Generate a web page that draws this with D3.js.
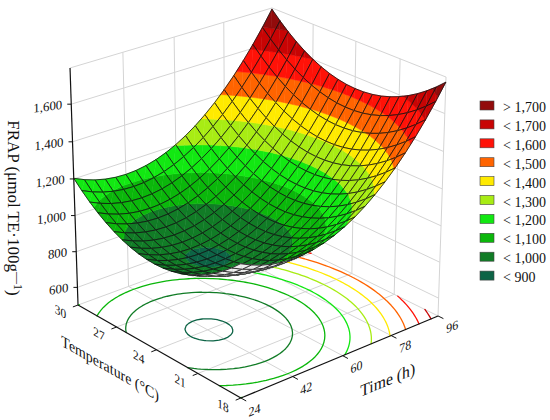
<!DOCTYPE html>
<html><head><meta charset="utf-8">
<script src="https://cdn.jsdelivr.net/npm/d3@7"></script>
<style>
body{margin:0;background:#fff}
svg{display:block}
text{font-family:"Liberation Serif","Times New Roman",serif;fill:#111}
</style>
</head><body>
<svg id="chart" width="550" height="420"></svg>
<script>
// ---------------- data ----------------
const timeTicks = [24, 42, 60, 78, 96];
const tempTicks = [18, 21, 24, 27, 30];
const frapTicks = [600, 800, 1000, 1200, 1400, 1600];
const frapTickLabels = ["600", "800", "1,000", "1,200", "1,400", "1,600"];
const contourLevels = [900, 1000, 1100, 1200, 1300, 1400, 1500, 1600, 1700];
const legendLabels = ["> 1,700", "< 1,700", "< 1,600", "< 1,500", "< 1,400", "< 1,300", "< 1,200", "< 1,100", "< 1,000", "< 900"];
// band colours, lowest band (< 900) first
const bandColors = ["#0d6446", "#117c26", "#0bb70b", "#12e812", "#a8ec14", "#ffea00", "#ff6400", "#ff1208", "#c80404", "#920b0b"];
// fitted quadratic response surface in coded units:
// b0, bTime, bTemp, bTime², bTemp², bTime·Temp
const frapModel = [961, 285, 5, 290, 237.5, 5];
const timeDomain = [24, 96];
const tempDomain = [18, 30];
const frapDomain = [500, 1790];

// ---------------- scales ----------------
const su = d3.scaleLinear().domain(timeDomain).range([0, 1]);
const sv = d3.scaleLinear().domain(tempDomain).range([0, 1]);
const sw = d3.scaleLinear().domain(frapDomain).range([0, 1]);
const codeT = d3.scaleLinear().domain(timeDomain).range([-1, 1]);
const codeC = d3.scaleLinear().domain(tempDomain).range([-1, 1]);
function frap(time, temp) {
  const x = codeT(time), y = codeC(temp), b = frapModel;
  return b[0] + b[1]*x + b[2]*y + b[3]*x*x + b[4]*y*y + b[5]*x*y;
}

// ---------------- camera (perspective, calibrated on box corners) ----------------
const viewAnchors = [
  [[0,0,0],[241,398]],
  [[1,0,0],[438,316]],
  [[0,1,0],[78,305]],
  [[0,1,1],[70,68]],
  [[1,0,1],[446,77]],
  [[1,1,1],[272,8]]
];
function solveCamera(pairs) {
  const rows = [], rhs = [];
  pairs.forEach(([[X,Y,Z],[x,y]]) => {
    rows.push([X,Y,Z,1,0,0,0,0,-x*X,-x*Y,-x*Z]); rhs.push(x);
    rows.push([0,0,0,0,X,Y,Z,1,-y*X,-y*Y,-y*Z]); rhs.push(y);
  });
  const n = 11;
  const M = Array.from({length:n}, () => new Array(n+1).fill(0));
  rows.forEach((r, k) => {
    for (let i=0;i<n;i++){ for (let j=0;j<n;j++) M[i][j]+=r[i]*r[j]; M[i][n]+=r[i]*rhs[k]; }
  });
  for (let c=0;c<n;c++){
    let p=c; for (let r=c+1;r<n;r++) if (Math.abs(M[r][c])>Math.abs(M[p][c])) p=r;
    [M[c],M[p]]=[M[p],M[c]];
    for (let r=0;r<n;r++){ if(r===c) continue; const f=M[r][c]/M[c][c]; for (let j=c;j<=n;j++) M[r][j]-=f*M[c][j]; }
  }
  return M.map((r,i)=>r[n]/r[i]);
}
const P = solveCamera(viewAnchors);
function depth(u,v,w){ return P[8]*u + P[9]*v + P[10]*w + 1; }
function proj(u,v,w){
  const d = depth(u,v,w);
  return [(P[0]*u+P[1]*v+P[2]*w+P[3])/d, (P[4]*u+P[5]*v+P[6]*w+P[7])/d];
}
const farSign = depth(1,1,0) > depth(0,0,0) ? 1 : -1;
function orient(a,b,c){ return (b[0]-a[0])*(c[1]-a[1]) - (b[1]-a[1])*(c[0]-a[0]); }
const topSign = Math.sign(orient(proj(0,0,0), proj(1,0,0), proj(1,1,0)));

const svg = d3.select("#chart");
const gGrid = svg.append("g");
const gFloor = svg.append("g");
const gSurf = svg.append("g");
const gAxes = svg.append("g");

function seg(g, a, b, stroke, width) {
  const p = proj(...a), q = proj(...b);
  g.append("line").attr("x1",p[0]).attr("y1",p[1]).attr("x2",q[0]).attr("y2",q[1])
    .attr("stroke",stroke).attr("stroke-width",width);
}

// ---------------- box grid ----------------
const gridCol = "#d4d4d4";
timeTicks.forEach(t => { const u = su(t);
  if (u>0) seg(gGrid,[u,0,0],[u,1,0],gridCol,1);      // floor
  if (u>0) seg(gGrid,[u,1,0],[u,1,1],gridCol,1);      // left wall
});
tempTicks.forEach(c => { const v = sv(c);
  if (v>0) seg(gGrid,[0,v,0],[1,v,0],gridCol,1);      // floor
  seg(gGrid,[1,v,0],[1,v,1],gridCol,1);               // right wall
});
frapTicks.concat([frapDomain[1]]).forEach(z => { const w = sw(z);
  seg(gGrid,[0,1,w],[1,1,w],gridCol,1);
  seg(gGrid,[1,1,w],[1,0,w],gridCol,1);
});

// ---------------- floor contours ----------------
const MC = 48;
const gv = [];
for (let i=0;i<=MC;i++){ gv.push([]); for (let j=0;j<=MC;j++) gv[i].push(frap(su.invert(i/MC), sv.invert(j/MC))); }
contourLevels.forEach((L, k) => {
  let d = "";
  for (let i=0;i<MC;i++) for (let j=0;j<MC;j++){
    const c = [[i,j],[i+1,j],[i+1,j+1],[i,j+1]];
    const pts = [];
    for (let e=0;e<4;e++){
      const a=c[e], b=c[(e+1)%4];
      const va=gv[a[0]][a[1]], vb=gv[b[0]][b[1]];
      if ((va<L)!==(vb<L)){
        const t=(L-va)/(vb-va);
        pts.push([(a[0]+t*(b[0]-a[0]))/MC, (a[1]+t*(b[1]-a[1]))/MC]);
      }
    }
    for (let s=0;s+1<pts.length;s+=2){
      const p=proj(pts[s][0],pts[s][1],0), q=proj(pts[s+1][0],pts[s+1][1],0);
      d += `M${p[0].toFixed(2)},${p[1].toFixed(2)}L${q[0].toFixed(2)},${q[1].toFixed(2)}`;
    }
  }
  gFloor.append("path").attr("d",d).attr("fill","none")
    .attr("stroke",bandColors[k]).attr("stroke-width",1.3).attr("stroke-linecap","round");
});

// ---------------- surface ----------------
const N = 20;
const nodes = [];
for (let i=0;i<=N;i++){ nodes.push([]); for (let j=0;j<=N;j++){
  const u=i/N, v=j/N; nodes[i].push({u, v, z: frap(su.invert(u), sv.invert(v))});
}}
function clip(poly, lvl, keepAbove){
  const out=[];
  for (let i=0;i<poly.length;i++){
    const a=poly[i], b=poly[(i+1)%poly.length];
    const ia = keepAbove ? a.z>=lvl : a.z<lvl;
    const ib = keepAbove ? b.z>=lvl : b.z<lvl;
    if (ia) out.push(a);
    if (ia!==ib){ const t=(lvl-a.z)/(b.z-a.z); out.push({u:a.u+t*(b.u-a.u), v:a.v+t*(b.v-a.v), z:lvl}); }
  }
  return out;
}
const pp = p => proj(p.u,p.v,sw(p.z));
const pathOf = poly => "M" + poly.map(p => pp(p).map(x=>x.toFixed(2)).join(",")).join("L") + "Z";
const cells = [];
for (let i=0;i<N;i++) for (let j=0;j<N;j++){
  const q=[nodes[i][j],nodes[i+1][j],nodes[i+1][j+1],nodes[i][j+1]];
  const zc=d3.mean(q,d=>d.z);
  cells.push({q, dep: farSign*depth((i+0.5)/N,(j+0.5)/N,sw(zc))});
}
cells.sort((a,b)=>b.dep-a.dep);
const backFill = "#eeeeee";
cells.forEach(cell => {
  const q = cell.q;
  [[q[0],q[1],q[2]],[q[0],q[2],q[3]]].forEach(tri => {
    const facing = Math.sign(orient(pp(tri[0]),pp(tri[1]),pp(tri[2]))) === topSign;
    if (!facing) {
      gSurf.append("path").attr("d",pathOf(tri)).attr("fill",backFill).attr("stroke",backFill).attr("stroke-width",0.5);
      return;
    }
    for (let k=0;k<bandColors.length;k++){
      let poly = tri;
      if (k>0) poly = clip(poly, contourLevels[k-1], true);
      if (poly.length>=3 && k<contourLevels.length) poly = clip(poly, contourLevels[k], false);
      if (poly.length>=3) gSurf.append("path").attr("d",pathOf(poly))
        .attr("fill",bandColors[k]).attr("stroke",bandColors[k]).attr("stroke-width",0.5).attr("stroke-linejoin","round");
    }
  });
  gSurf.append("path").attr("d",pathOf(q)).attr("fill","none")
    .attr("stroke","#111").attr("stroke-width",0.8).attr("stroke-linejoin","round");
});

// ---------------- axes ----------------
seg(gAxes,[0,1,0],[0,1,1],"#111",1.2);
seg(gAxes,[0,0,0],[0,1,0],"#111",1.2);
seg(gAxes,[0,0,0],[1,0,0],"#111",1.2);

function unitDir(a,b){ const p=proj(...a), q=proj(...b); const dx=q[0]-p[0], dy=q[1]-p[1], l=Math.hypot(dx,dy); return [dx/l, dy/l]; }
function label(g, pos, dir, txt, size){
  const p = proj(...pos);
  return g.append("text").attr("transform",`matrix(${dir[0]},${dir[1]},0,1,${p[0]},${p[1]})`)
    .attr("text-anchor","middle").attr("dy","0.35em").attr("font-size",size).text(txt);
}

// z axis ticks and labels
const zDir = [Math.cos(-8*Math.PI/180), Math.sin(-8*Math.PI/180)];
frapTicks.forEach((z,k) => {
  const w = sw(z), p = proj(0,1,w);
  gAxes.append("line").attr("x1",p[0]-4).attr("y1",p[1]).attr("x2",p[0]).attr("y2",p[1]).attr("stroke","#111");
  gAxes.append("text").attr("transform",`matrix(${zDir[0]},${zDir[1]},0,1,${p[0]-9},${p[1]})`)
    .attr("text-anchor","end").attr("dy","0.35em").attr("font-size",13).text(frapTickLabels[k]);
});

// temperature axis
const tDir = unitDir([0,1,0],[0,0,0]);
tempTicks.forEach(c => {
  const v = sv(c);
  seg(gAxes,[0,v,0],[-0.025,v,0],"#111",1);
  label(gAxes,[-0.085,v,0],tDir,String(c),13);
});
label(gAxes,[-0.22,0.5,0],tDir,"Temperature (°C)",16);

// time axis
const hDir = unitDir([0,0,0],[1,0,0]);
timeTicks.forEach(t => {
  const u = su(t);
  seg(gAxes,[u,0,0],[u,-0.03,0],"#111",1);
  label(gAxes,[u-0.02,-0.1,0],hDir,String(t),13);
});
label(gAxes,[0.5,-0.25,0],hDir,"Time (h)",17);

// z title
const zt = svg.append("text").attr("transform","translate(14,208) rotate(90)")
  .attr("text-anchor","middle").attr("dy","0.35em").attr("font-size",17);
zt.append("tspan").text("FRAP (μmol TE·100g");
zt.append("tspan").attr("font-size",12).attr("dy",-6).text("—1");
zt.append("tspan").attr("dy",6).text(")");

// ---------------- legend ----------------
const gLeg = svg.append("g");
const legColors = bandColors.slice().reverse();
legendLabels.forEach((t,k) => {
  const y = 101 + k*18.9;
  gLeg.append("rect").attr("x",480).attr("y",y).attr("width",14).attr("height",9)
    .attr("fill",legColors[k]).attr("stroke","#444").attr("stroke-width",0.6);
  gLeg.append("text").attr("x",503).attr("y",y+11).attr("font-size",14).text(t);
});
</script>
</body></html>
